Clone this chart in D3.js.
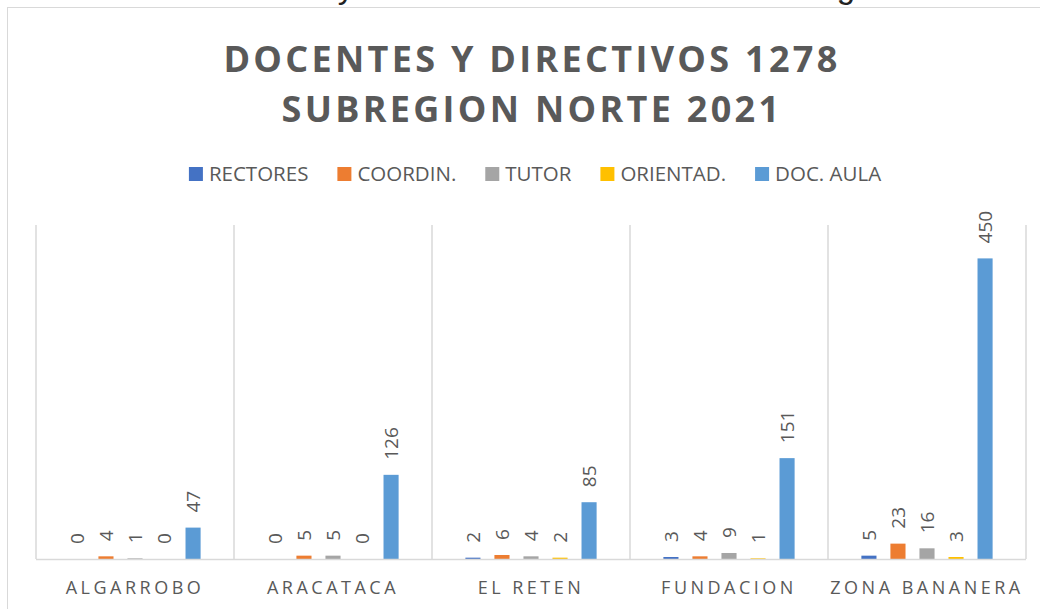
<!DOCTYPE html>
<html>
<head>
<meta charset="utf-8">
<script src="https://cdn.jsdelivr.net/npm/d3@7"></script>
<style>
  body { margin: 0; background: #fff; overflow: hidden; }
  text { font-family: "Open Sans", sans-serif; }
</style>
</head>
<body>
<div id="chart"></div>
<script>
// data
const categories = ["ALGARROBO", "ARACATACA", "EL RETEN", "FUNDACION", "ZONA BANANERA"];
const series = ["RECTORES", "COORDIN.", "TUTOR", "ORIENTAD.", "DOC. AULA"];
const rectores = [0, 0, 2, 3, 5];
const coordin = [4, 5, 6, 4, 23];
const tutor = [1, 5, 4, 9, 16];
const orientad = [0, 0, 2, 1, 3];
const docAula = [47, 126, 85, 151, 450];
const colors = ["#4472C4", "#ED7D31", "#A5A5A5", "#FFC000", "#5B9BD5"];
const titleLines = ["DOCENTES Y DIRECTIVOS 1278", "SUBREGION NORTE 2021"];

const values = [rectores, coordin, tutor, orientad, docAula];

const W = 1040, H = 609;
const plot = {left: 36, right: 1026, top: 225, bottom: 559};

const svg = d3.select("#chart").append("svg")
  .attr("width", W).attr("height", H);

// caption of the page above the chart, mostly cut off like in the source
svg.append("text")
  .attr("x", 37).attr("y", -2)
  .style("font-family", "Liberation Sans, sans-serif")
  .style("font-size", "33px")
  .attr("fill", "#222")
  .text("Gráfica 6. Docentes y Directivos Docentes 1278 Subregión Norte 2021");

// chart frame (runs off page on right/bottom)
svg.append("rect")
  .attr("x", 7.5).attr("y", 7.5)
  .attr("width", 1200).attr("height", 800)
  .attr("fill", "#fff")
  .attr("stroke", "#D9D9D9").attr("stroke-width", 1);

// title
svg.append("text")
  .attr("text-anchor", "middle")
  .attr("fill", "#595959")
  .style("font-size", "36px").style("font-weight", "bold")
  .style("letter-spacing", "3.3px")
  .selectAll("tspan").data(titleLines).enter().append("tspan")
    .attr("x", 532)
    .attr("y", (d, i) => 72 + i * 50)
    .text(d => d);

// scales
const x0 = d3.scaleBand().domain(categories).range([plot.left, plot.right]).padding(0);
const x1 = d3.scaleBand().domain(series).range([0, x0.bandwidth()])
  .paddingInner(0.48).paddingOuter(1.15);
const y = d3.scaleLinear().domain([0, 500]).range([plot.bottom, plot.top]);

// vertical category separators
svg.append("g").selectAll("line")
  .data(d3.range(categories.length + 1)).enter().append("line")
    .attr("x1", i => plot.left + i * x0.step())
    .attr("x2", i => plot.left + i * x0.step())
    .attr("y1", plot.top).attr("y2", plot.bottom)
    .attr("stroke", "#D9D9D9").attr("stroke-width", 1.5);

// bars
const groups = svg.append("g").selectAll("g")
  .data(categories).enter().append("g")
    .attr("transform", d => "translate(" + x0(d) + ",0)");

const cells = groups.selectAll("g")
  .data((c, ci) => series.map((s, si) => ({s: s, si: si, v: values[si][ci]})))
  .enter().append("g");

cells.append("rect")
  .attr("x", d => x1(d.s))
  .attr("width", x1.bandwidth())
  .attr("y", d => y(d.v))
  .attr("height", d => y(0) - y(d.v))
  .attr("fill", d => colors[d.si]);

cells.append("text")
  .attr("transform", d => "translate(" + (x1(d.s) + x1.bandwidth() / 2) + "," + (y(d.v) - 15) + ") rotate(-90)")
  .attr("dy", "0.35em")
  .attr("fill", "#595959")
  .style("font-size", "19px")
  .text(d => d.v);

// baseline
svg.append("line")
  .attr("x1", plot.left).attr("x2", plot.right)
  .attr("y1", plot.bottom + 0.5).attr("y2", plot.bottom + 0.5)
  .attr("stroke", "#D9D9D9").attr("stroke-width", 1.5);

// category axis
const xAxis = svg.append("g")
  .attr("transform", "translate(0," + plot.bottom + ")")
  .call(d3.axisBottom(x0).tickSize(0).tickPadding(0));
xAxis.select(".domain").remove();
xAxis.selectAll("text")
  .attr("y", 35).attr("dy", 0)
  .attr("fill", "#595959")
  .style("font-family", "Open Sans, sans-serif")
  .style("font-size", "18px")
  .style("letter-spacing", "3.5px");

// legend
const legend = svg.append("g");
const items = legend.selectAll("g").data(series).enter().append("g");
items.append("rect").attr("width", 14).attr("height", 14).attr("y", 167)
  .attr("fill", (d, i) => colors[i]);
items.append("text").attr("x", 20).attr("y", 181)
  .attr("fill", "#595959").style("font-size", "20.5px")
  .text(d => d);
let cx = 0;
items.each(function() {
  const w = d3.select(this).select("text").node().getComputedTextLength();
  d3.select(this).attr("transform", "translate(" + cx + ",0)");
  cx += 20 + w + 29;
});
const total = cx - 29;
legend.attr("transform", "translate(" + (535 - total / 2) + ",0)");
</script>
</body>
</html>
